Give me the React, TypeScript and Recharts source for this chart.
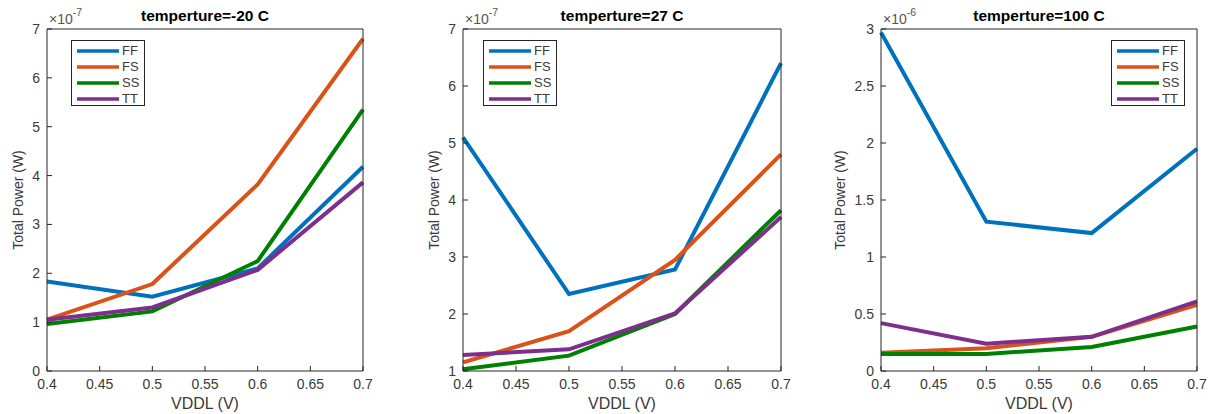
import React from 'react';
import { LineChart, Line, XAxis, YAxis, Legend } from 'recharts';

// VDDL sweep points (V)
const vddl = [0.4, 0.5, 0.6, 0.7];
const xTicks = [0.4, 0.45, 0.5, 0.55, 0.6, 0.65, 0.7];

// temperature = -20 C, values in 1e-7 W
const ffCold = [1.83, 1.52, 2.1, 4.18];
const fsCold = [1.05, 1.78, 3.82, 6.8];
const ssCold = [0.96, 1.22, 2.25, 5.35];
const ttCold = [1.05, 1.3, 2.07, 3.86];

// temperature = 27 C, values in 1e-7 W
const ffRoom = [5.1, 2.35, 2.78, 6.4];
const fsRoom = [1.15, 1.7, 2.95, 4.8];
const ssRoom = [1.03, 1.27, 2.0, 3.82];
const ttRoom = [1.28, 1.38, 2.01, 3.7];

// temperature = 100 C, values in 1e-6 W
const ffHot = [2.97, 1.31, 1.21, 1.95];
const fsHot = [0.16, 0.2, 0.3, 0.58];
const ssHot = [0.15, 0.15, 0.21, 0.39];
const ttHot = [0.42, 0.24, 0.3, 0.61];

const corners = ['FF', 'FS', 'SS', 'TT'];
const cornerColors: Record<string, string> = {
  FF: '#0072BD',
  FS: '#D95319',
  SS: '#008000',
  TT: '#7E2F8E',
};

const buildRows = (series: number[][]) =>
  vddl.map((v, i) => {
    const row: Record<string, number> = { x: v };
    corners.forEach((c, k) => {
      row[c] = series[k][i];
    });
    return row;
  });

const AXIS = '#262626';
const LABEL = '#3a3a3a';
const FONT = '"Liberation Sans", Arial, sans-serif';

interface PanelProps {
  title: string;
  exponent: string;
  plotLeft: number;
  plotRight: number;
  yDomain: [number, number];
  yTicks: number[];
  data: Array<Record<string, number>>;
  legendLeft: number;
  yLabelGap: number;
}

const PLOT_TOP = 29;
const PLOT_BOTTOM = 371;
const LEFT_W = 40;
const RIGHT_W = 10;

const LegendBox = ({ payload }: any) => (
  <div
    style={{
      width: 74,
      height: 66,
      boxSizing: 'border-box',
      border: `1px solid ${AXIS}`,
      background: '#fff',
      paddingTop: 2,
    }}
  >
    {(payload || []).map((p: any) => (
      <div key={p.value} style={{ display: 'flex', alignItems: 'center', height: 16 }}>
        <svg width={50} height={16} style={{ display: 'block' }}>
          <line x1={5} x2={47} y1={8} y2={8} stroke={p.color} strokeWidth={3.5} />
        </svg>
        <span style={{ fontSize: 13, color: LABEL, lineHeight: '16px' }}>{p.value}</span>
      </div>
    ))}
  </div>
);

const Panel: React.FC<PanelProps> = ({
  title,
  exponent,
  plotLeft,
  plotRight,
  yDomain,
  yTicks,
  data,
  legendLeft,
  yLabelGap,
}) => {
  const chartLeft = plotLeft - LEFT_W;
  const chartWidth = plotRight - plotLeft + LEFT_W + RIGHT_W;
  const center = (plotLeft + plotRight) / 2;

  return (
    <>
      <div style={{ position: 'absolute', left: chartLeft, top: 0 }}>
        <LineChart
          width={chartWidth}
          height={414}
          data={data}
          margin={{ top: 0, right: 0, bottom: 0, left: 0 }}
        >
          <XAxis
            xAxisId="b"
            dataKey="x"
            type="number"
            domain={[0.4, 0.7]}
            ticks={xTicks}
            height={414 - PLOT_BOTTOM}
            tickSize={-5}
            tickMargin={13}
            stroke={AXIS}
            tick={{ fill: LABEL, fontSize: 14 }}
            interval={0}
          />
          <XAxis
            xAxisId="t"
            orientation="top"
            dataKey="x"
            type="number"
            domain={[0.4, 0.7]}
            ticks={xTicks}
            height={PLOT_TOP}
            tickSize={-5}
            stroke={AXIS}
            tick={false}
            interval={0}
          />
          <YAxis
            yAxisId="l"
            domain={yDomain}
            ticks={yTicks}
            width={LEFT_W}
            tickSize={-5}
            tickMargin={12}
            stroke={AXIS}
            tick={{ fill: LABEL, fontSize: 14 }}
            interval={0}
          />
          <YAxis
            yAxisId="r"
            orientation="right"
            domain={yDomain}
            ticks={yTicks}
            width={RIGHT_W}
            tickSize={-5}
            stroke={AXIS}
            tick={false}
            interval={0}
          />
          {corners.map((c) => (
            <Line
              key={c}
              xAxisId="b"
              yAxisId="l"
              type="linear"
              dataKey={c}
              name={c}
              stroke={cornerColors[c]}
              strokeWidth={4}
              dot={false}
              isAnimationActive={false}
            />
          ))}
          <Legend
            layout="horizontal"
            verticalAlign="middle"
            align="center"
            content={<LegendBox />}
            wrapperStyle={{ left: legendLeft - chartLeft, top: 40, width: 74, height: 66 }}
          />
        </LineChart>
      </div>
      <div
        style={{
          position: 'absolute',
          left: center - 150,
          width: 300,
          top: 7,
          textAlign: 'center',
          fontWeight: 'bold',
          fontSize: 15.5,
          color: '#000',
        }}
      >
        {title}
      </div>
      <div
        style={{
          position: 'absolute',
          left: plotLeft + 2,
          top: 11,
          fontSize: 14,
          color: '#555',
          whiteSpace: 'nowrap',
        }}
      >
        ×10<sup style={{ fontSize: 10.5, verticalAlign: 'top', position: 'relative', top: -5 }}>{exponent}</sup>
      </div>
      <div
        style={{
          position: 'absolute',
          left: center - 100,
          width: 200,
          top: 395,
          textAlign: 'center',
          fontSize: 16,
          color: LABEL,
        }}
      >
        VDDL (V)
      </div>
      <div
        style={{
          position: 'absolute',
          left: plotLeft - yLabelGap - 100,
          top: 200 - 9,
          width: 200,
          height: 18,
          lineHeight: '18px',
          textAlign: 'center',
          fontSize: 14,
          color: LABEL,
          transform: 'rotate(-90deg)',
        }}
      >
        Total Power (W)
      </div>
    </>
  );
};

export default function App() {
  return (
    <div
      style={{
        position: 'absolute',
        left: 0,
        top: 0,
        width: 1212,
        height: 414,
        background: '#fff',
        fontFamily: FONT,
        overflow: 'hidden',
      }}
    >
      <Panel
        title="temperture=-20 C"
        exponent="-7"
        plotLeft={47}
        plotRight={363}
        yDomain={[0, 7]}
        yTicks={[0, 1, 2, 3, 4, 5, 6, 7]}
        data={buildRows([ffCold, fsCold, ssCold, ttCold])}
        legendLeft={71}
        yLabelGap={29}
      />
      <Panel
        title="temperture=27 C"
        exponent="-7"
        plotLeft={463}
        plotRight={781}
        yDomain={[1, 7]}
        yTicks={[1, 2, 3, 4, 5, 6, 7]}
        data={buildRows([ffRoom, fsRoom, ssRoom, ttRoom])}
        legendLeft={483}
        yLabelGap={29}
      />
      <Panel
        title="temperture=100 C"
        exponent="-6"
        plotLeft={881}
        plotRight={1197}
        yDomain={[0, 3]}
        yTicks={[0, 0.5, 1, 1.5, 2, 2.5, 3]}
        data={buildRows([ffHot, fsHot, ssHot, ttHot])}
        legendLeft={1111}
        yLabelGap={41}
      />
    </div>
  );
}
